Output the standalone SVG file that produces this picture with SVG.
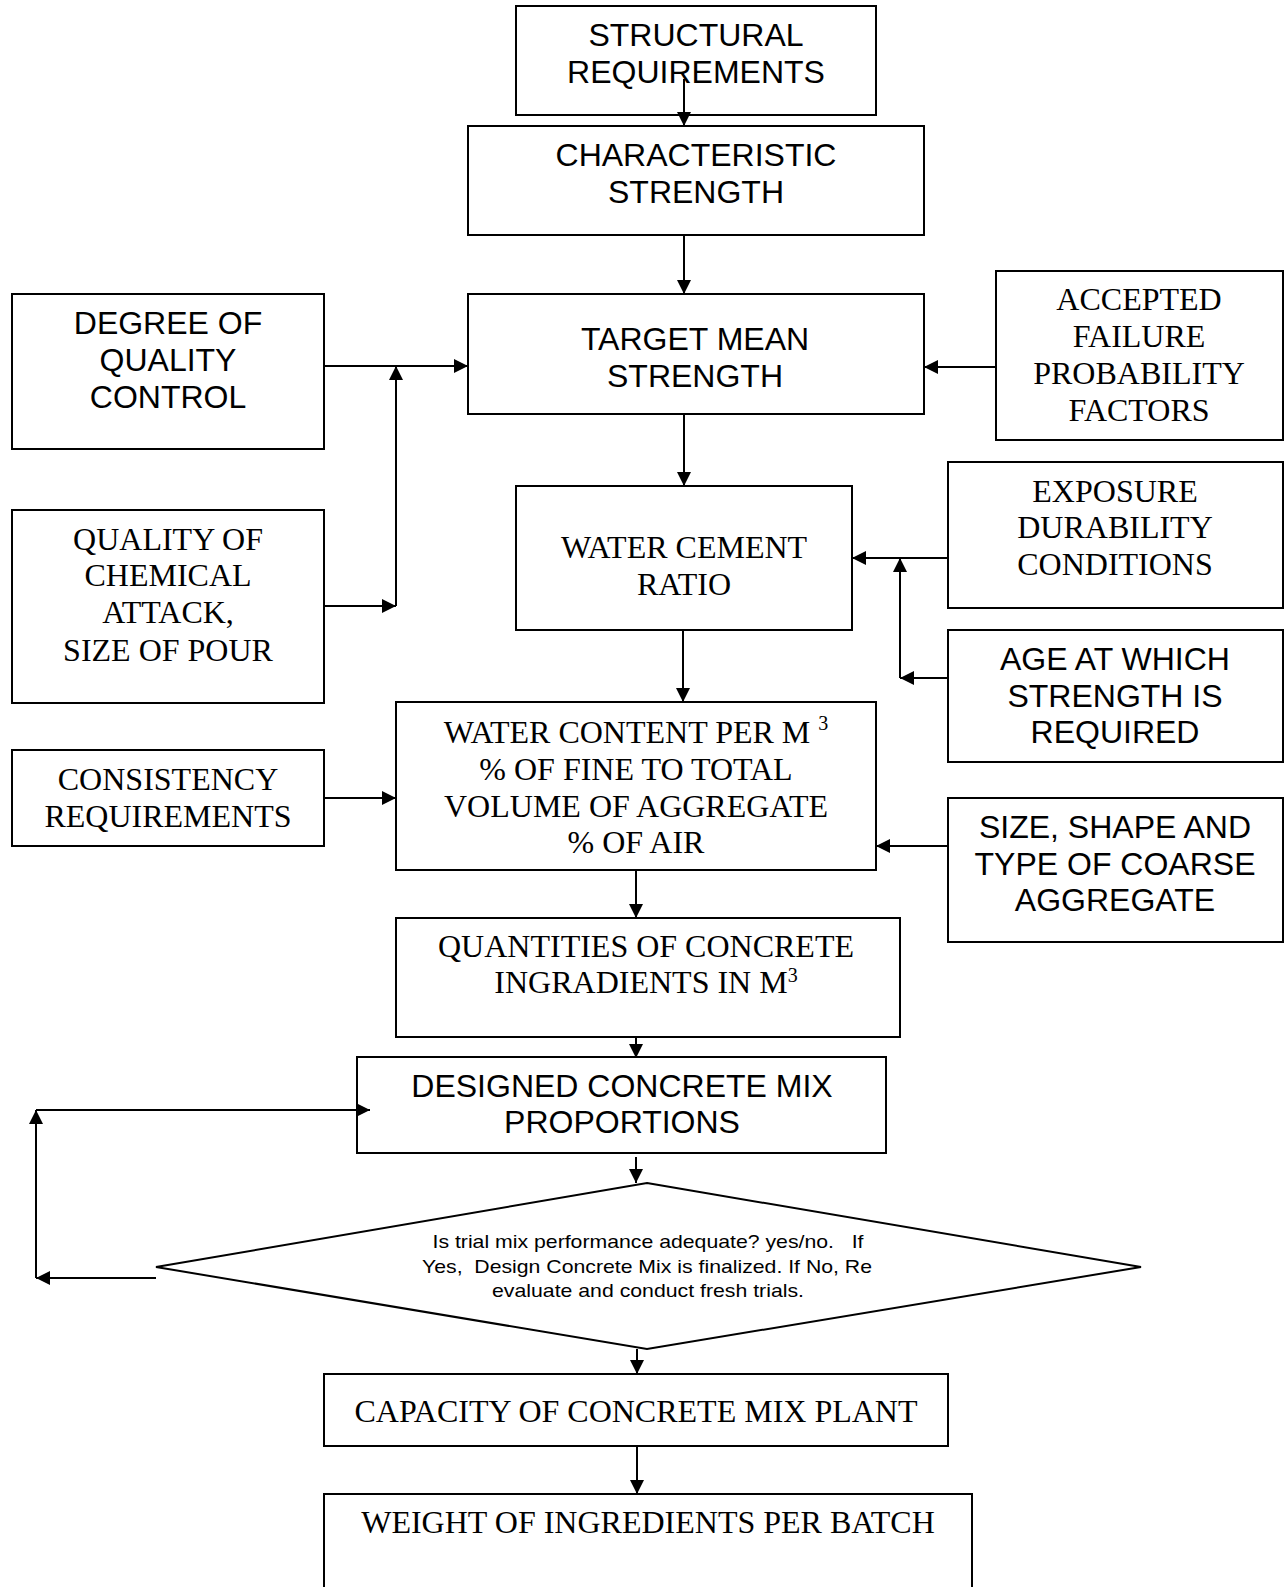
<svg xmlns="http://www.w3.org/2000/svg" width="1287" height="1587" viewBox="0 0 1287 1587">
  <style>
    .box { fill: #ffffff; stroke: #000000; stroke-width: 2; }
    .wire { fill: none; stroke: #000000; stroke-width: 2; }
    .sans { font-family: "Liberation Sans", Arial, sans-serif; font-size: 32px; fill: #000000; text-anchor: middle; }
    .serif { font-family: "Liberation Serif", "Times New Roman", serif; font-size: 32px; fill: #000000; text-anchor: middle; }
    .small { font-family: "Liberation Sans", Arial, sans-serif; font-size: 19px; fill: #000000; text-anchor: middle; white-space: pre; }
  </style>
  <defs>
    <marker id="arrow" markerUnits="userSpaceOnUse" markerWidth="16" markerHeight="16" refX="14" refY="7" orient="auto">
      <path d="M0,0 L14,7 L0,14 Z" fill="#000000"/>
    </marker>
  </defs>
  <rect width="1287" height="1587" fill="#ffffff"/>

  <!-- process boxes -->
  <g id="structural-requirements">
    <rect class="box" x="516" y="6" width="360" height="109"/>
    <text class="sans" x="696" y="46">STRUCTURAL</text>
    <text class="sans" x="696" y="83">REQUIREMENTS</text>
  </g>
  <g id="characteristic-strength">
    <rect class="box" x="468" y="126" width="456" height="109"/>
    <text class="sans" x="696" y="166">CHARACTERISTIC</text>
    <text class="sans" x="696" y="203">STRENGTH</text>
  </g>
  <g id="target-mean-strength">
    <rect class="box" x="468" y="294" width="456" height="120"/>
    <text class="sans" x="695" y="350">TARGET MEAN</text>
    <text class="sans" x="695" y="387">STRENGTH</text>
  </g>
  <g id="degree-of-quality-control">
    <rect class="box" x="12" y="294" width="312" height="155"/>
    <text class="sans" x="168" y="334">DEGREE OF</text>
    <text class="sans" x="168" y="371">QUALITY</text>
    <text class="sans" x="168" y="408">CONTROL</text>
  </g>
  <g id="chemical-attack">
    <rect class="box" x="12" y="510" width="312" height="193"/>
    <text class="serif" x="168" y="550">QUALITY OF</text>
    <text class="serif" x="168" y="586">CHEMICAL</text>
    <text class="serif" x="168" y="623">ATTACK,</text>
    <text class="serif" x="168" y="661">SIZE OF POUR</text>
  </g>
  <g id="accepted-failure">
    <rect class="box" x="996" y="271" width="287" height="169"/>
    <text class="serif" x="1139" y="310">ACCEPTED</text>
    <text class="serif" x="1139" y="347">FAILURE</text>
    <text class="serif" x="1139" y="384">PROBABILITY</text>
    <text class="serif" x="1139" y="421">FACTORS</text>
  </g>
  <g id="water-cement-ratio">
    <rect class="box" x="516" y="486" width="336" height="144"/>
    <text class="serif" x="684" y="558">WATER CEMENT</text>
    <text class="serif" x="684" y="595">RATIO</text>
  </g>
  <g id="exposure-conditions">
    <rect class="box" x="948" y="462" width="335" height="146"/>
    <text class="serif" x="1115" y="502">EXPOSURE</text>
    <text class="serif" x="1115" y="538">DURABILITY</text>
    <text class="serif" x="1115" y="575">CONDITIONS</text>
  </g>
  <g id="age-strength">
    <rect class="box" x="948" y="630" width="335" height="132"/>
    <text class="sans" x="1115" y="670">AGE AT WHICH</text>
    <text class="sans" x="1115" y="707">STRENGTH IS</text>
    <text class="sans" x="1115" y="743">REQUIRED</text>
  </g>
  <g id="water-content">
    <rect class="box" x="396" y="702" width="480" height="168"/>
    <text class="serif" x="636" y="743">WATER CONTENT PER M <tspan font-size="20" dy="-13">3</tspan></text>
    <text class="serif" x="636" y="780">% OF FINE TO TOTAL</text>
    <text class="serif" x="636" y="817">VOLUME OF AGGREGATE</text>
    <text class="serif" x="636" y="853">% OF AIR</text>
  </g>
  <g id="consistency-requirements">
    <rect class="box" x="12" y="750" width="312" height="96"/>
    <text class="serif" x="168" y="790">CONSISTENCY</text>
    <text class="serif" x="168" y="827">REQUIREMENTS</text>
  </g>
  <g id="coarse-aggregate">
    <rect class="box" x="948" y="798" width="335" height="144"/>
    <text class="sans" x="1115" y="838">SIZE, SHAPE AND</text>
    <text class="sans" x="1115" y="875">TYPE OF COARSE</text>
    <text class="sans" x="1115" y="911">AGGREGATE</text>
  </g>
  <g id="quantities">
    <rect class="box" x="396" y="918" width="504" height="119"/>
    <text class="serif" x="646" y="957">QUANTITIES OF CONCRETE</text>
    <text class="serif" x="646" y="993">INGRADIENTS IN M<tspan font-size="20" dy="-11">3</tspan></text>
  </g>
  <g id="designed-mix">
    <rect class="box" x="357" y="1057" width="529" height="96"/>
    <text class="sans" x="622" y="1097">DESIGNED CONCRETE MIX</text>
    <text class="sans" x="622" y="1133">PROPORTIONS</text>
  </g>
  <g id="trial-decision">
    <polygon class="box" points="647,1183 1141,1267 647,1349 156,1267"/>
    <text class="small" x="648" y="1248" textLength="431" lengthAdjust="spacingAndGlyphs">Is trial mix performance adequate? yes/no.   If</text>
    <text class="small" x="647" y="1273" textLength="450" lengthAdjust="spacingAndGlyphs">Yes,  Design Concrete Mix is finalized. If No, Re</text>
    <text class="small" x="648" y="1297" textLength="312" lengthAdjust="spacingAndGlyphs">evaluate and conduct fresh trials.</text>
  </g>
  <g id="plant-capacity">
    <rect class="box" x="324" y="1374" width="624" height="72"/>
    <text class="serif" x="636" y="1422">CAPACITY OF CONCRETE MIX PLANT</text>
  </g>
  <g id="batch-weight">
    <rect class="box" x="324" y="1494" width="648" height="110"/>
    <text class="serif" x="648" y="1533">WEIGHT OF INGREDIENTS PER BATCH</text>
  </g>

  <!-- connectors -->
  <g id="connectors">
    <line class="wire" x1="684" y1="79" x2="684" y2="126" marker-end="url(#arrow)"/>
    <line class="wire" x1="684" y1="235" x2="684" y2="294" marker-end="url(#arrow)"/>
    <line class="wire" x1="324" y1="366" x2="468" y2="366" marker-end="url(#arrow)"/>
    <line class="wire" x1="324" y1="606" x2="396" y2="606" marker-end="url(#arrow)"/>
    <line class="wire" x1="396" y1="606" x2="396" y2="366" marker-end="url(#arrow)"/>
    <line class="wire" x1="996" y1="367" x2="924" y2="367" marker-end="url(#arrow)"/>
    <line class="wire" x1="684" y1="414" x2="684" y2="486" marker-end="url(#arrow)"/>
    <line class="wire" x1="948" y1="558" x2="852" y2="558" marker-end="url(#arrow)"/>
    <line class="wire" x1="948" y1="678" x2="900" y2="678" marker-end="url(#arrow)"/>
    <line class="wire" x1="900" y1="678" x2="900" y2="558" marker-end="url(#arrow)"/>
    <line class="wire" x1="683" y1="630" x2="683" y2="702" marker-end="url(#arrow)"/>
    <line class="wire" x1="324" y1="798" x2="396" y2="798" marker-end="url(#arrow)"/>
    <line class="wire" x1="948" y1="846" x2="876" y2="846" marker-end="url(#arrow)"/>
    <line class="wire" x1="636" y1="870" x2="636" y2="918" marker-end="url(#arrow)"/>
    <line class="wire" x1="636" y1="1037" x2="636" y2="1058" marker-end="url(#arrow)"/>
    <line class="wire" x1="636" y1="1157" x2="636" y2="1183" marker-end="url(#arrow)"/>
    <line class="wire" x1="637" y1="1349" x2="637" y2="1374" marker-end="url(#arrow)"/>
    <line class="wire" x1="637" y1="1446" x2="637" y2="1494" marker-end="url(#arrow)"/>
    <!-- feedback loop from the decision back to the mix proportions -->
    <line class="wire" x1="156" y1="1278" x2="36" y2="1278" marker-end="url(#arrow)"/>
    <line class="wire" x1="36" y1="1278" x2="36" y2="1110" marker-end="url(#arrow)"/>
    <line class="wire" x1="36" y1="1110" x2="370" y2="1110" marker-end="url(#arrow)"/>
  </g>
</svg>
